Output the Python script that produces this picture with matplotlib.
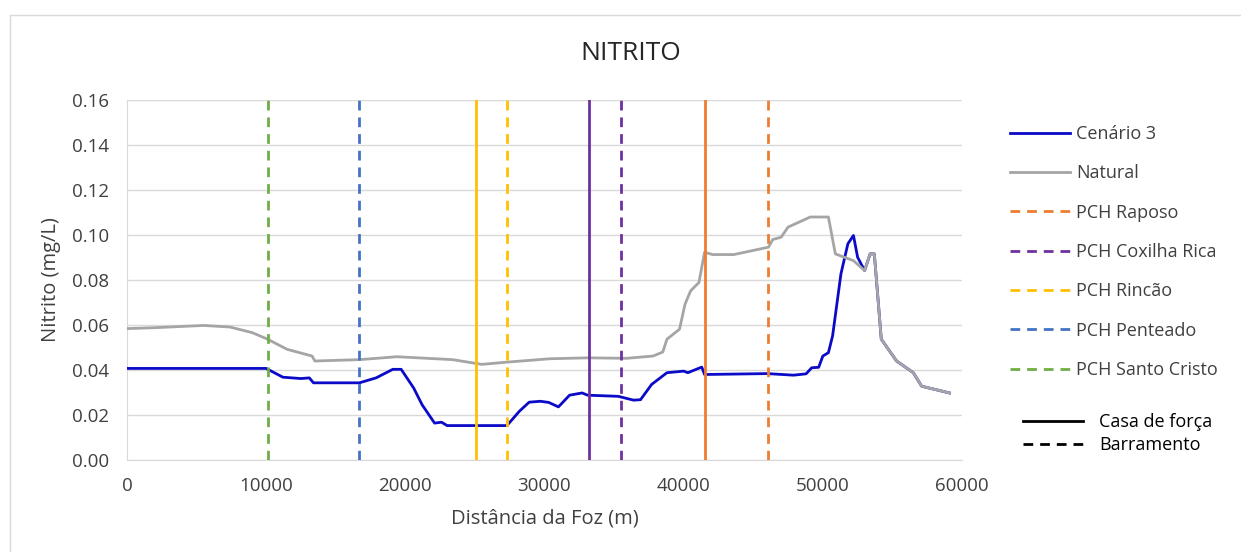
import matplotlib.pyplot as plt
from matplotlib.lines import Line2D
from matplotlib.patches import Rectangle

# Natural profile (gray)
natural_x = [0, 2000, 5500, 7400, 9000, 10100, 11500, 13300, 13500, 16700, 19400,
             23400, 25500, 27300, 30400, 33100, 35900, 37800, 38500, 38800, 39700,
             40100, 40500, 41100, 41500, 42100, 43600, 46100, 46400, 47000, 47500,
             49100, 50400, 50900, 52200, 53000, 53400, 53700, 54200, 55300, 56500,
             57100, 59100]
natural_y = [0.0584, 0.0588, 0.0598, 0.0591, 0.0566, 0.0537, 0.0492, 0.0462, 0.0440,
             0.0446, 0.0459, 0.0446, 0.0425, 0.0435, 0.0450, 0.0454, 0.0452, 0.0462,
             0.0480, 0.0537, 0.0581, 0.0693, 0.0752, 0.0789, 0.0923, 0.0913, 0.0913,
             0.0946, 0.0980, 0.0990, 0.1035, 0.1080, 0.1080, 0.0916, 0.0886, 0.0842,
             0.0916, 0.0916, 0.0537, 0.0440, 0.0388, 0.0328, 0.0298]

# Cenario 3 (blue)
cen3_x = [0, 10000, 11200, 12500, 13100, 13400, 16700, 17900, 19100, 19700, 20600,
          21200, 22100, 22600, 23000, 27300, 28200, 28900, 29700, 30300, 31000,
          31800, 32700, 33100, 35300, 36400, 36900, 37700, 38800, 40000, 40300,
          41300, 41500, 46000, 47900, 48800, 49200, 49700, 50000, 50400, 50700,
          51300, 51800, 52200, 52500, 53000, 53400, 53700, 54200, 55300, 56500,
          57100, 59100]
cen3_y = [0.0407, 0.0407, 0.0368, 0.0362, 0.0365, 0.0343, 0.0343, 0.0365, 0.0403,
          0.0403, 0.0320, 0.0246, 0.0164, 0.0168, 0.0153, 0.0153, 0.0217, 0.0257,
          0.0261, 0.0256, 0.0236, 0.0288, 0.0298, 0.0288, 0.0283, 0.0266, 0.0268,
          0.0336, 0.0388, 0.0395, 0.0388, 0.0413, 0.0380, 0.0384, 0.0377, 0.0383,
          0.0410, 0.0412, 0.0462, 0.0477, 0.0551, 0.0827, 0.0961, 0.0998, 0.0901,
          0.0842, 0.0916, 0.0916, 0.0537, 0.0440, 0.0388, 0.0328, 0.0298]

# PCH positions (m): casa de forca (solid), barramento (dashed)
pch_names = ['PCH Raposo', 'PCH Coxilha Rica', 'PCH Rincão', 'PCH Penteado', 'PCH Santo Cristo']
pch_colors = ['#ED7D31', '#7030A0', '#FFC000', '#4472C4', '#70AD47']
pch_casa = [41500, 33200, 25100, None, None]
pch_barr = [46050, 35500, 27300, 16650, 10100]

plt.rcParams['font.family'] = ['Open Sans', 'DejaVu Sans']
txt = '#404040'

fig = plt.figure(figsize=(12.41, 5.52), dpi=100)
ax = fig.add_axes([127 / 1241, 1 - 460 / 552, 835 / 1241, 360 / 552])

ax.plot(cen3_x, cen3_y, color='#0A0AC8', lw=2.0, zorder=3)
ax.plot(natural_x, natural_y, color='#A5A5A5', lw=2.0, zorder=4)

dash = (0, (3.5, 2.5))
for name, c, xc, xb in zip(pch_names, pch_colors, pch_casa, pch_barr):
    if xc is not None:
        ax.axvline(xc, color=c, lw=2.0, zorder=5)
    ax.axvline(xb, color=c, lw=2.0, linestyle=dash, zorder=5)

ax.set_xlim(0, 60000)
ax.set_ylim(0, 0.16)
ax.set_xticks(range(0, 60001, 10000))
ax.set_yticks([i * 0.02 for i in range(9)])
ax.set_yticklabels(['%.2f' % (i * 0.02) for i in range(9)])
ax.grid(axis='y', color='#D9D9D9', lw=1)
ax.set_axisbelow(True)
for s in ['top', 'right']:
    ax.spines[s].set_visible(False)
for s in ['left', 'bottom']:
    ax.spines[s].set_color('#D9D9D9')
ax.tick_params(axis='x', length=0, labelsize=13.5, colors=txt, pad=12)
ax.tick_params(axis='y', length=0, labelsize=13.5, colors=txt, pad=13)
ax.set_xlabel('Distância da Foz (m)', fontsize=14.5, color=txt, labelpad=10)
ax.set_ylabel('Nitrito (mg/L)', fontsize=14.5, color=txt, labelpad=8)

fig.text(631 / 1241, 1 - 54 / 552, 'NITRITO', fontsize=19, color='#262626',
         ha='center', va='center')

handles = [Line2D([], [], color='#0A0AC8', lw=2.0),
           Line2D([], [], color='#A5A5A5', lw=2.0)]
handles += [Line2D([], [], color=c, lw=2.0, linestyle=dash) for c in pch_colors]
labels = ['Cenário 3', 'Natural'] + pch_names
fig.legend(handles, labels, loc='upper left', bbox_to_anchor=(1010 / 1241, 1 - 125 / 552),
           frameon=False, fontsize=13, labelcolor=txt, handlelength=3.3,
           handletextpad=0.35, labelspacing=1.18, borderpad=0, borderaxespad=0)

h2 = [Line2D([], [], color='black', lw=2.0),
      Line2D([], [], color='black', lw=2.0, linestyle=(0, (3.5, 2.5)))]
fig.legend(h2, ['Casa de força', 'Barramento'], loc='upper left',
           bbox_to_anchor=(1023 / 1241, 1 - 413 / 552), frameon=False, fontsize=13,
           labelcolor='black', handlelength=3.3, handletextpad=0.9, labelspacing=0.3,
           borderpad=0, borderaxespad=0)

fig.patches.append(Rectangle((10 / 1241, -0.05), 1.1, 1 - 15 / 552 + 0.05,
                             transform=fig.transFigure, fill=False,
                             edgecolor='#D9D9D9', lw=1))

fig.savefig('out.png', dpi=100)
